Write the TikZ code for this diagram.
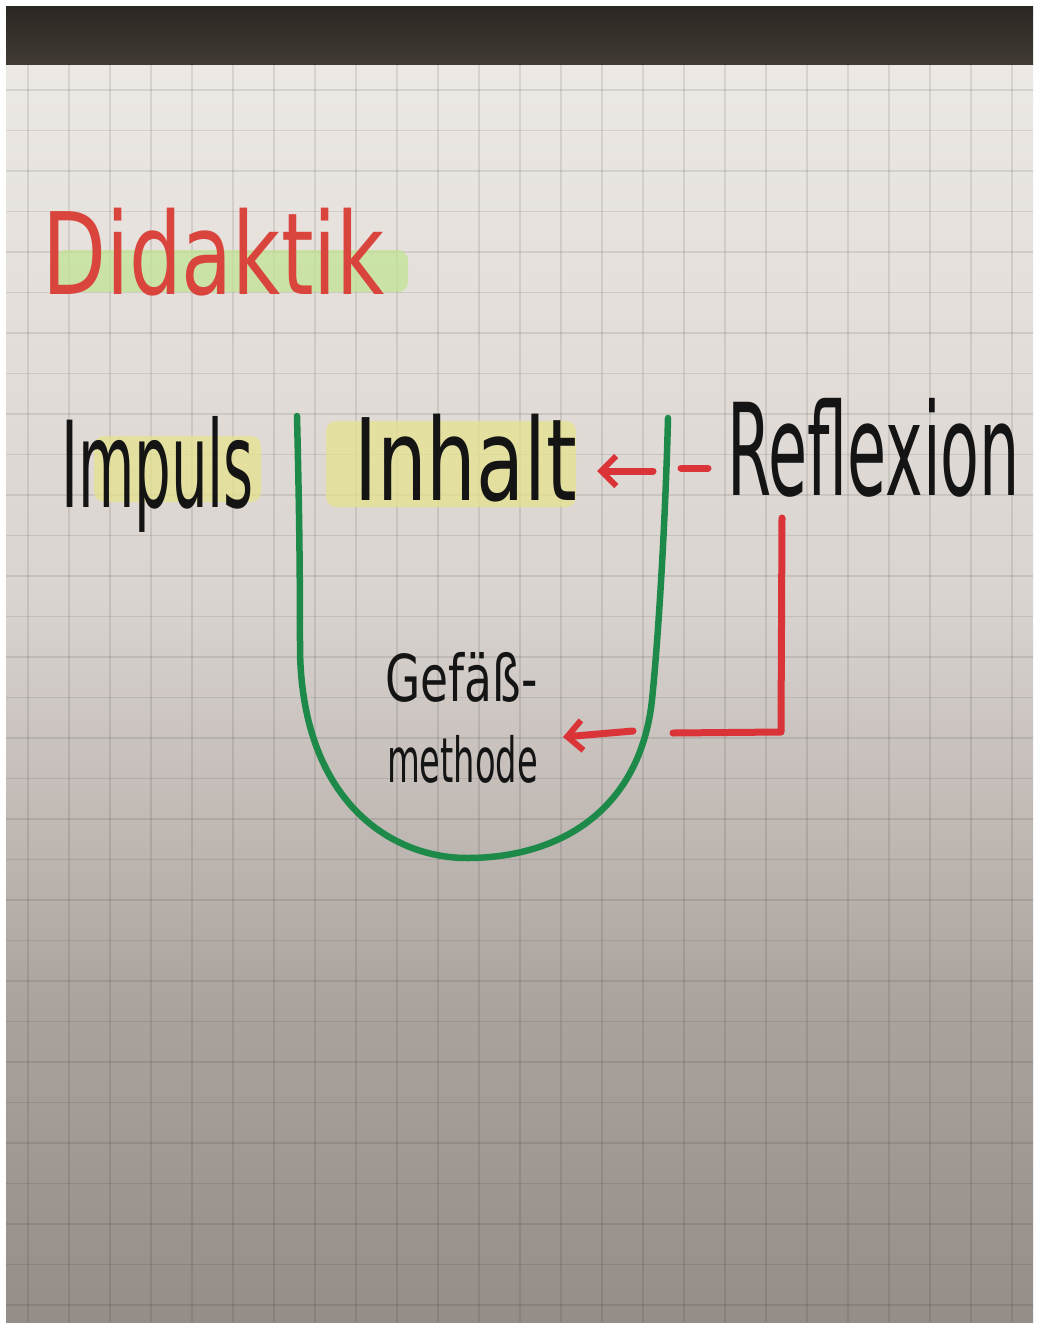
\documentclass[tikz,border=0pt]{standalone}
\usepackage{fontspec}
\setmainfont{DejaVu Sans}
\usetikzlibrary{arrows.meta}
\definecolor{paperTop}{HTML}{ECE8E4}
\definecolor{paperMid}{HTML}{DAD4D0}
\definecolor{paperLow}{HTML}{ABA39E}
\definecolor{paperBot}{HTML}{958D88}
\definecolor{bandTop}{HTML}{2A2621}
\definecolor{bandBot}{HTML}{413B34}
\definecolor{markerGreen}{HTML}{1E8A4A}
\definecolor{markerRed}{HTML}{DA3438}
\definecolor{titleRed}{HTML}{D9443C}
\definecolor{inkBlack}{HTML}{141414}
\definecolor{hlGreen}{HTML}{C2E494}
\definecolor{hlYellow}{HTML}{E6E38E}
\newcommand{\hwfit}[3]{\resizebox*{#1pt}{#2pt}{#3}}
\tikzset{
  hw/.style={inner sep=0pt, outer sep=0pt, font=\fontsize{60}{60}\selectfont},
  gridline/.style={draw=black, opacity=0.09, line width=1.6pt},
  greenline/.style={draw=markerGreen, line width=6.5pt, line cap=round},
  redline/.style={draw=markerRed, line width=7pt, line cap=round, line join=round},
  redarrow/.style={redline, -{Straight Barb[length=15pt,width=30pt,line width=6pt]}},
  highlight/.style={rounded corners=10pt, opacity=0.75}
}
\begin{document}
\begin{tikzpicture}[x=1pt,y=-1pt]
\useasboundingbox (0,0) rectangle (1039,1328);
\fill[white] (0,0) rectangle (1039,1328);
% paper
\shade[top color=paperTop, bottom color=paperMid] (6,63) rectangle (1033,600.5);
\shade[top color=paperMid, bottom color=paperLow] (6,600) rectangle (1033,1000.5);
\shade[top color=paperLow, bottom color=paperBot] (6,1000) rectangle (1033,1322);
% dark band at top
\shade[top color=bandTop, bottom color=bandBot] (6,6) rectangle (1033,64);
% grid
\foreach \gx in {0,...,24} \draw[gridline] ({28+41*\gx},64) -- ({28+41*\gx},1322);
\foreach \gy in {0,...,30} \draw[gridline] (6,{90+40.5*\gy}) -- (1033,{90+40.5*\gy});
% highlights
\fill[hlGreen, highlight] (55,250) rectangle (408,292);
\fill[hlYellow, highlight] (94,436) rectangle (261,502);
\fill[hlYellow, highlight] (326,421) rectangle (576,507);
% texts
\node[hw, text=titleRed, anchor=north west] (didaktik) at (42,208) {\hwfit{343}{88}{Didaktik}};
\node[hw, text=inkBlack, anchor=north west] (impuls) at (61,416) {\hwfit{193}{116}{Impuls}};
\node[hw, text=inkBlack, anchor=north west] (inhalt) at (354,414) {\hwfit{223}{88}{Inhalt}};
\node[hw, text=inkBlack, anchor=north west] (reflexion) at (727,398) {\hwfit{293}{99}{Reflexion}};
\node[hw, text=inkBlack, anchor=north west] (gefaess) at (385,652) {\hwfit{153}{50}{Gefäß-}};
\node[hw, text=inkBlack, anchor=north west] (methode) at (387,735) {\hwfit{151}{48}{methode}};
% green vessel
\draw[greenline] (297,416) .. controls (299,500) and (300,560) .. (300,650)
  .. controls (302,800) and (390,858) .. (467,858)
  .. controls (560,858) and (640,810) .. (652,700)
  .. controls (660,620) and (666,500) .. (668,418);
% red arrows
\coordinate (a1tail) at (653,471);
\coordinate (a1tip) at (597,471);
\coordinate (dashA) at (681,468);
\coordinate (dashB) at (708,468);
\coordinate (lTop) at (782,518);
\coordinate (lCorner) at (781,732);
\coordinate (lEnd) at (673,733);
\coordinate (a2tail) at (633,731);
\coordinate (a2tip) at (563,737);
\draw[redarrow] (a1tail) -- (a1tip);
\draw[redline] (dashA) -- (dashB);
\draw[redline] (lTop) -- (lCorner) -- (lEnd);
\draw[redarrow] (a2tail) -- (a2tip);
\end{tikzpicture}
\end{document}
